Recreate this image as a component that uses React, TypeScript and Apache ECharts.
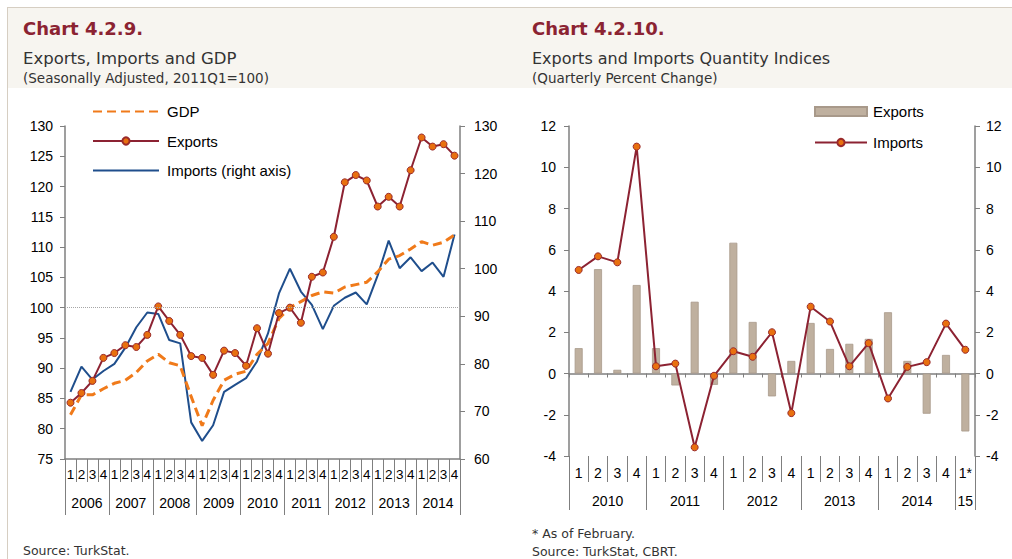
import React, { useEffect, useRef } from 'react';
import * as echarts from 'echarts';

// ---------- Left chart data (2006Q1 - 2014Q4) ----------
const leftYears = ['2006', '2007', '2008', '2009', '2010', '2011', '2012', '2013', '2014'];
const leftQuarters = leftYears.flatMap((y) => ['1', '2', '3', '4'].map((q) => `${y}Q${q}`));
const gdp = [82.3, 85.6, 85.6, 86.6, 87.5, 88.0, 89.3, 91.2, 92.3, 90.9, 90.4, 85.3,
  80.5, 84.7, 88.0, 89.0, 89.5, 92.3, 94.1, 98.2, 100.0, 101.0, 102.0, 102.6,
  102.4, 103.4, 103.8, 104.2, 105.9, 108.0, 108.6, 109.7, 110.9, 110.3, 110.8, 112.0];
const exportsIdx = [84.3, 85.9, 87.9, 91.7, 92.5, 93.8, 93.5, 95.5, 100.2, 97.8, 95.5, 92.0,
  91.7, 88.9, 92.9, 92.5, 90.4, 96.6, 92.4, 99.1, 100.0, 97.5, 105.1, 105.8,
  111.7, 120.7, 121.9, 121.0, 116.7, 118.3, 116.7, 122.7, 128.1, 126.6, 127.0, 125.1];
const importsIdx = [74.1, 79.4, 76.7, 78.5, 80.0, 83.4, 87.7, 90.8, 90.5, 85.0, 84.3, 67.7,
  63.8, 67.1, 74.1, 75.6, 77.0, 80.5, 86.4, 94.8, 100.0, 95.2, 92.4, 87.3,
  92.2, 93.9, 95.0, 92.5, 98.6, 105.9, 100.1, 102.4, 99.5, 101.3, 98.3, 107.2];
const leftTicksY = { min: 75, max: 130, interval: 5 };
const rightTicksY = { min: 60, max: 130, interval: 10 };

// ---------- Right chart data (2010Q1 - 2015Q1) ----------
const rightQuarters = ['2010Q1', '2010Q2', '2010Q3', '2010Q4', '2011Q1', '2011Q2', '2011Q3', '2011Q4',
  '2012Q1', '2012Q2', '2012Q3', '2012Q4', '2013Q1', '2013Q2', '2013Q3', '2013Q4',
  '2014Q1', '2014Q2', '2014Q3', '2014Q4', '2015Q1'];
const rightQuarterLabels = ['1', '2', '3', '4', '1', '2', '3', '4', '1', '2', '3', '4',
  '1', '2', '3', '4', '1', '2', '3', '4', '1*'];
const rightYears = ['2010', '2011', '2012', '2013', '2014', '15'];
const qExports = [1.23, 5.06, 0.18, 4.29, 1.23, -0.58, 3.48, -0.55, 6.34, 2.5, -1.11, 0.61,
  2.45, 1.19, 1.44, 1.68, 2.97, 0.61, -1.95, 0.9, -2.81];
const qImports = [5.02, 5.68, 5.39, 11.0, 0.35, 0.48, -3.58, -0.11, 1.08, 0.81, 2.0, -1.92,
  3.24, 2.52, 0.35, 1.47, -1.21, 0.32, 0.55, 2.42, 1.15];
const qTicksY = { min: -4, max: 12, interval: 2 };

const AXIS = '#7f7f7f';
const RED = '#8c2232';
const ORANGE = '#f07a1a';
const BLUE = '#1f4e8c';
const TITLE_RED = '#8b2332';
const TFONT = 'DejaVu Sans';

// Year axis helpers: boundary-point category axes (boundaryGap false)
const leftYearPts = Array.from({ length: leftQuarters.length + 1 }, (_, i) => `p${i}`);
const leftYearLabel = (i: number) => (i % 4 === 2 ? leftYears[(i - 2) / 4] : '');
// right: half-quarter resolution, 21 quarters -> 43 points
const rightYearPts = Array.from({ length: rightQuarters.length * 2 + 1 }, (_, i) => `p${i}`);
const rightYearLabel = (i: number) => {
  if (i === 41) return rightYears[5];
  if (i % 8 === 4 && i < 40) return rightYears[(i - 4) / 8];
  return '';
};
const rightYearTick = (i: number) => i % 8 === 0 || i === 42;

export default function App() {
  const ref = useRef<HTMLDivElement>(null);
  useEffect(() => {
    if (!ref.current) return;
    const chart = echarts.init(ref.current, null, { renderer: 'svg' });
    const axisLine = { show: true, lineStyle: { color: AXIS, width: 1.5 } };
    const yLabel = { color: '#000', fontSize: 14, fontFamily: 'Liberation Sans' };
    const lineMarker = {
      symbol: 'circle',
      symbolSize: 7,
      itemStyle: { color: '#e8700f', borderColor: '#9a2a2a', borderWidth: 1 },
      lineStyle: { color: RED, width: 2 },
    };
    const option: any = {
      animation: false,
      textStyle: { fontFamily: 'Liberation Sans' },
      graphic: [
        { type: 'rect', shape: { x: 7, y: 7, width: 1005, height: 81 }, style: { fill: '#f7f5f0' }, silent: true },
        { type: 'line', shape: { x1: 7, y1: 7.5, x2: 1012, y2: 7.5 }, style: { stroke: '#d6cec2', lineWidth: 1 }, silent: true },
        { type: 'line', shape: { x1: 7.5, y1: 7, x2: 7.5, y2: 559 }, style: { stroke: '#d6cec2', lineWidth: 1 }, silent: true },
        { type: 'text', x: 23, y: 28, style: { text: 'Chart 4.2.9.', fill: TITLE_RED, font: `bold 18px "${TFONT}"`, textVerticalAlign: 'middle' } },
        { type: 'text', x: 23, y: 58, style: { text: 'Exports, Imports and GDP', fill: '#333', font: `16.5px "${TFONT}"`, textVerticalAlign: 'middle' } },
        { type: 'text', x: 23, y: 78, style: { text: '(Seasonally Adjusted, 2011Q1=100)', fill: '#333', font: `13.5px "${TFONT}"`, textVerticalAlign: 'middle' } },
        { type: 'text', x: 532, y: 28, style: { text: 'Chart 4.2.10.', fill: TITLE_RED, font: `bold 18px "${TFONT}"`, textVerticalAlign: 'middle' } },
        { type: 'text', x: 532, y: 58, style: { text: 'Exports and Imports Quantity Indices', fill: '#333', font: `16px "${TFONT}"`, textVerticalAlign: 'middle' } },
        { type: 'text', x: 532, y: 78, style: { text: '(Quarterly Percent Change)', fill: '#333', font: `13.5px "${TFONT}"`, textVerticalAlign: 'middle' } },
        { type: 'text', x: 23, y: 550, style: { text: 'Source: TurkStat.', fill: '#333', font: `12.5px "${TFONT}"`, textVerticalAlign: 'middle' } },
        { type: 'text', x: 532, y: 533, style: { text: '* As of February.', fill: '#333', font: `12.5px "${TFONT}"`, textVerticalAlign: 'middle' } },
        { type: 'text', x: 532, y: 551, style: { text: 'Source: TurkStat, CBRT.', fill: '#333', font: `12.5px "${TFONT}"`, textVerticalAlign: 'middle' } },
      ],
      legend: [
        {
          left: 87, top: 99, orient: 'vertical', itemWidth: 66, itemHeight: 9, itemGap: 14.5,
          textStyle: { fontSize: 15, color: '#000', fontFamily: 'Liberation Sans', padding: [0, 0, 0, 3] },
          data: [
            { name: 'GDP', itemStyle: { opacity: 0 } },
            'Exports',
            { name: 'Imports (right axis)', itemStyle: { opacity: 0 } },
          ],
        },
        {
          left: 809, top: 99, orient: 'vertical', itemWidth: 52, itemHeight: 9, itemGap: 16,
          textStyle: { fontSize: 15, color: '#000', fontFamily: 'Liberation Sans', padding: [0, 0, 0, 1] },
          formatter: (n: string) => (n === 'Exports ' ? 'Exports' : n === 'Imports ' ? 'Imports' : n),
          data: [{ name: 'Exports ', icon: 'rect' }, 'Imports '],
        },
      ],
      grid: [
        { left: 65, top: 126, width: 395, height: 333, outerBoundsMode: 'none' },
        { left: 569, top: 126, width: 406, height: 330, outerBoundsMode: 'none' },
      ],
      xAxis: [
        {
          gridIndex: 0, type: 'category', data: leftQuarters, position: 'bottom',
          axisLine: { ...axisLine, onZero: false },
          axisTick: { show: true, interval: 0, length: 23, lineStyle: { color: AXIS, width: 1 } },
          axisLabel: { interval: 0, margin: 8, fontSize: 13.5, color: '#000', formatter: (v: string) => v.slice(-1) },
        },
        {
          gridIndex: 0, type: 'category', data: leftYearPts, boundaryGap: false, position: 'bottom',
          axisLine: { show: false, onZero: false },
          axisTick: { show: true, interval: (i: number) => i % 4 === 0, length: 56, lineStyle: { color: AXIS, width: 1 } },
          axisLabel: { interval: (i: number) => i % 4 === 2, margin: 37, fontSize: 14, color: '#000', formatter: (_v: string, i: number) => leftYearLabel(i) },
        },
        {
          gridIndex: 1, type: 'category', data: rightQuarters,
          axisLine: { ...axisLine, onZero: true },
          axisTick: { show: true, interval: 0, length: 4, lineStyle: { color: AXIS, width: 1 } },
          axisLabel: { show: false },
        },
        {
          gridIndex: 1, type: 'category', data: rightQuarters, position: 'bottom',
          axisLine: { show: false, onZero: false },
          axisTick: { show: true, interval: 0, length: 26, lineStyle: { color: AXIS, width: 1 } },
          axisLabel: { interval: 0, margin: 10, fontSize: 14, color: '#000', formatter: (_v: string, i: number) => rightQuarterLabels[i] },
        },
        {
          gridIndex: 1, type: 'category', data: rightYearPts, boundaryGap: false, position: 'bottom',
          axisLine: { show: false, onZero: false },
          axisTick: { show: true, interval: (i: number) => rightYearTick(i), length: 54, lineStyle: { color: AXIS, width: 1 } },
          axisLabel: { interval: (i: number) => rightYearLabel(i) !== '', margin: 38, fontSize: 14, color: '#000', formatter: (_v: string, i: number) => rightYearLabel(i) },
        },
      ],
      yAxis: [
        {
          gridIndex: 0, type: 'value', position: 'left', ...leftTicksY,
          axisLine, axisTick: { show: true, length: 5, lineStyle: { color: AXIS } },
          splitLine: { show: false }, axisLabel: { ...yLabel, margin: 12 },
        },
        {
          gridIndex: 0, type: 'value', position: 'right', ...rightTicksY,
          axisLine, axisTick: { show: true, length: 5, lineStyle: { color: AXIS } },
          splitLine: { show: false }, axisLabel: { ...yLabel, margin: 14 },
        },
        {
          gridIndex: 1, type: 'value', position: 'left', ...qTicksY,
          axisLine, axisTick: { show: true, length: 5, lineStyle: { color: AXIS } },
          splitLine: { show: false }, axisLabel: { ...yLabel, margin: 13 },
        },
        {
          gridIndex: 1, type: 'value', position: 'right', ...qTicksY,
          axisLine, axisTick: { show: true, length: 5, lineStyle: { color: AXIS } },
          splitLine: { show: false }, axisLabel: { ...yLabel, margin: 11 },
        },
      ],
      series: [
        {
          name: 'GDP', type: 'line', xAxisIndex: 0, yAxisIndex: 0, data: gdp,
          symbol: 'none', itemStyle: { color: ORANGE },
          lineStyle: { color: ORANGE, width: 3, type: [9, 5] }, z: 3,
        },
        {
          name: 'Imports (right axis)', type: 'line', xAxisIndex: 0, yAxisIndex: 1, data: importsIdx,
          symbol: 'none', itemStyle: { color: BLUE }, lineStyle: { color: BLUE, width: 2 }, z: 2,
        },
        {
          name: 'Exports', type: 'line', xAxisIndex: 0, yAxisIndex: 0, data: exportsIdx,
          ...lineMarker, z: 4,
          markLine: {
            silent: true, symbol: 'none', label: { show: false },
            lineStyle: { color: '#a6a6a6', width: 1, type: 'dotted' },
            data: [{ yAxis: 100 }],
          },
        },
        {
          name: 'Exports ', type: 'bar', xAxisIndex: 2, yAxisIndex: 2, data: qExports,
          barWidth: 8, itemStyle: { color: '#bfb09f', borderColor: '#a8998a', borderWidth: 0.8 },
        },
        {
          name: 'Imports ', type: 'line', xAxisIndex: 2, yAxisIndex: 2, data: qImports,
          ...lineMarker, z: 4,
        },
      ],
    };
    chart.setOption(option);
    return () => chart.dispose();
  }, []);
  return (
    <div
      ref={ref}
      style={{ position: 'fixed', left: 0, top: 0, width: 1012, height: 559, background: '#fff' }}
    />
  );
}
